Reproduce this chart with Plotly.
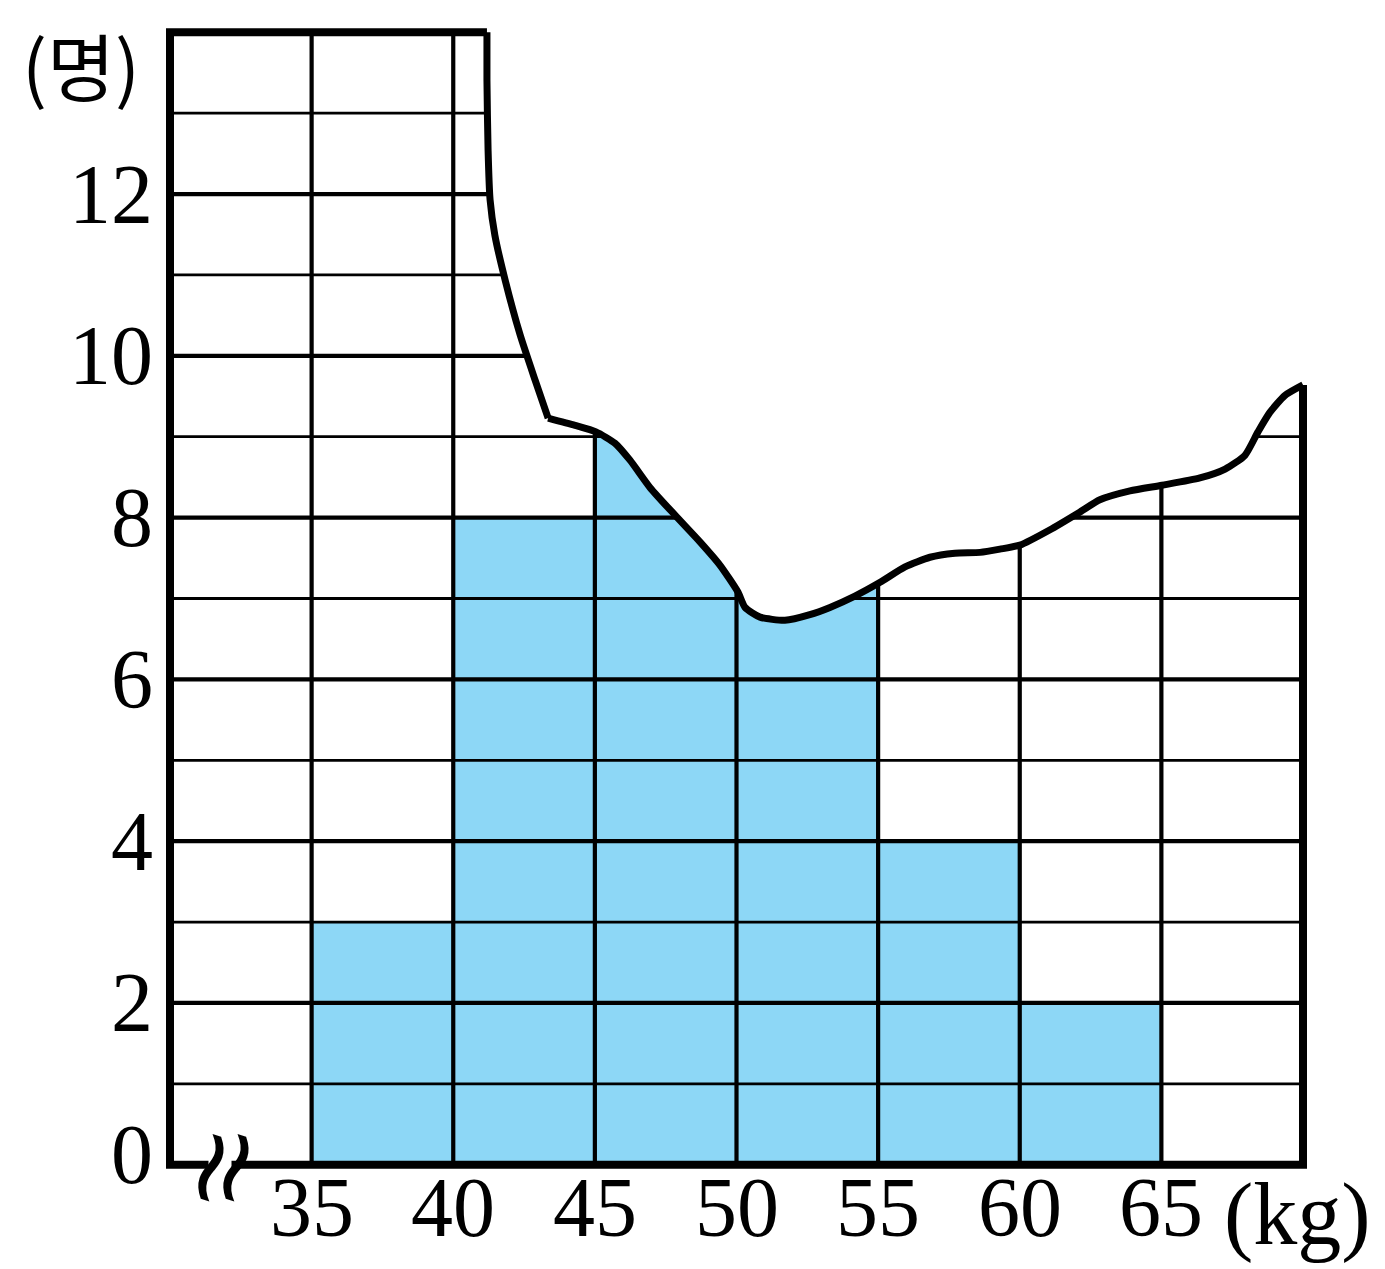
import plotly.graph_objects as go

# ---- data ----
bin_left = [35, 40, 45, 50, 55, 60, 65]
counts = [3, 8, 10, 8, 4, 2, 0]
bin_width = 5
x_ticks = [35, 40, 45, 50, 55, 60, 65]
y_ticks = [0, 2, 4, 6, 8, 10, 12]
y_minor = [1, 3, 5, 7, 9, 11, 13]
y_major = [2, 4, 6, 8, 10, 12]
x_min, x_max = 30, 70
y_top = 14

# torn edge (upper-left steep part, then wavy part)
tear_top_x = [41.19, 41.19, 41.23, 41.30, 41.47, 41.83, 42.36, 42.89, 43.35]
tear_top_y = [14.00, 13.41, 12.54, 11.93, 11.49, 10.94, 10.26, 9.70, 9.23]
tear_x = [43.35, 44.30, 45.04, 45.71, 46.24, 46.95, 47.83, 48.71, 49.42, 50.05,
          50.30, 50.83, 51.71, 52.59, 53.30, 54.18, 55.07, 55.95, 56.83, 57.71,
          58.60, 59.30, 60.01, 61.07, 62.13, 62.83, 63.89, 65.02, 66.36, 67.25,
          67.95, 68.41, 68.83, 69.36, 70.00]
tear_y = [9.23, 9.14, 9.06, 8.92, 8.71, 8.37, 8.03, 7.70, 7.41, 7.08,
          6.89, 6.77, 6.73, 6.80, 6.89, 7.03, 7.20, 7.39, 7.51, 7.56,
          7.57, 7.61, 7.66, 7.85, 8.07, 8.22, 8.33, 8.40, 8.49, 8.60,
          8.77, 9.06, 9.30, 9.51, 9.64]

BLUE = "#8DD7F6"
FONT = "Liberation Serif"
FS = 84

fig = go.Figure()

# bars
fig.add_trace(go.Bar(
    x=[b + bin_width / 2 for b in bin_left], y=counts, width=bin_width,
    marker=dict(color=BLUE, line=dict(width=0)), hoverinfo="skip"))

def hlines(vals):
    xs, ys = [], []
    for v in vals:
        xs += [x_min, x_max, None]
        ys += [v, v, None]
    return xs, ys

def vlines(vals):
    xs, ys = [], []
    for v in vals:
        xs += [v, v, None]
        ys += [0, y_top, None]
    return xs, ys

xs, ys = hlines(y_minor)
fig.add_trace(go.Scatter(x=xs, y=ys, mode="lines", line=dict(color="black", width=2.8), hoverinfo="skip"))
xs, ys = hlines(y_major)
fig.add_trace(go.Scatter(x=xs, y=ys, mode="lines", line=dict(color="black", width=4.2), hoverinfo="skip"))
xs, ys = vlines(x_ticks)
fig.add_trace(go.Scatter(x=xs, y=ys, mode="lines", line=dict(color="black", width=4.2), hoverinfo="skip"))

# white mask above the torn edge
curve_x = tear_top_x + tear_x[1:]
curve_y = tear_top_y + tear_y[1:]
mask_x = curve_x + [70.8, 70.8, curve_x[0]]
mask_y = curve_y + [curve_y[-1], 14.5, 14.5]
fig.add_trace(go.Scatter(x=mask_x, y=mask_y, mode="lines", fill="toself",
                         fillcolor="white", line=dict(width=0, color="white"), hoverinfo="skip"))

# torn edge line
fig.add_trace(go.Scatter(x=tear_top_x, y=tear_top_y, mode="lines",
                         line=dict(color="black", width=7, shape="spline", smoothing=0.6), hoverinfo="skip"))
fig.add_trace(go.Scatter(x=tear_x, y=tear_y, mode="lines",
                         line=dict(color="black", width=7, shape="spline", smoothing=0.6), hoverinfo="skip"))

# border
fig.add_trace(go.Scatter(x=[tear_top_x[0], x_min, x_min, x_max, x_max],
                         y=[y_top, y_top, 0, 0, tear_y[-1]], mode="lines",
                         line=dict(color="black", width=8, shape="linear"), hoverinfo="skip"))

ann = []
for v in y_ticks:
    ann.append(dict(x=29.47, y=v, xref="x", yref="y", text=str(v), showarrow=False,
                    xanchor="right", yanchor="middle", yshift=10 if v == 0 else 0,
                    font=dict(family=FONT, size=FS, color="black")))
for v in x_ticks:
    ann.append(dict(x=v, y=-0.016, xref="x", yref="paper", text=str(v), showarrow=False,
                    xanchor="center", yanchor="middle",
                    font=dict(family=FONT, size=FS, color="black")))
ann.append(dict(x=69.79, y=-0.022, xref="x", yref="paper", text="(kg)", showarrow=False,
                xanchor="center", yanchor="middle",
                font=dict(family=FONT, size=88, color="black")))
ann.append(dict(x=-0.062, y=1.0, xref="paper", yref="paper", text="(명)", showarrow=False,
                xanchor="center", yanchor="top",
                font=dict(family="Noto Sans CJK KR", size=74, color="black")))
# axis break: white gap then two wavy strokes
ann.append(dict(x=31.75, y=0, xref="x", yref="y", text=" ", showarrow=False,
                width=22, height=16, bgcolor="white", borderpad=0,
                xanchor="center", yanchor="middle", font=dict(size=8)))
for dx in (-12, 13):
    ann.append(dict(x=31.75, y=0, xref="x", yref="y", text="~", showarrow=False,
                    textangle=-72, xanchor="center", yanchor="middle", xshift=dx, yshift=-2,
                    font=dict(family="DejaVu Sans", size=104, color="black")))

fig.update_layout(
    width=1385, height=1269,
    margin=dict(l=145, r=73, t=0, b=88),
    paper_bgcolor="white", plot_bgcolor="white",
    showlegend=False, bargap=0, annotations=ann,
    xaxis=dict(range=[29.4, 70.6], visible=False, fixedrange=True),
    yaxis=dict(range=[-0.3, 14.3], visible=False, fixedrange=True),
)

fig.write_html("out.html")
